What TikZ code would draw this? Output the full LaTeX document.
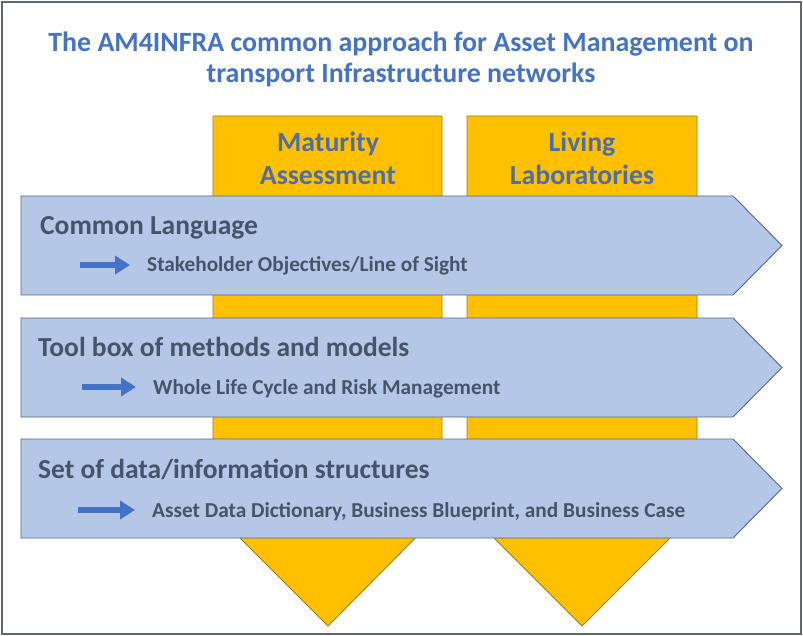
\documentclass[tikz,border=0pt]{standalone}
\usepackage{fontspec}
\setmainfont{Carlito}
\usetikzlibrary{arrows.meta}
\definecolor{jaune}{HTML}{FFC000}
\definecolor{jaunebord}{HTML}{A9791C}
\definecolor{bleuclair}{HTML}{B4C7E7}
\definecolor{bleubord}{HTML}{52678C}
\definecolor{bleutitre}{HTML}{4472C4}
\definecolor{bleujaune}{HTML}{4F6EA8}
\definecolor{ardoise}{HTML}{44546A}
\definecolor{cadregris}{HTML}{5F6675}
\tikzset{
  jauneforme/.style={fill=jaune,draw=jaunebord,line width=0.9pt},
  bande/.style={fill=bleuclair,draw=bleubord,line width=0.9pt},
  titre/.style={align=center,text=bleutitre,font=\bfseries\fontsize{27.9}{31}\selectfont},
  jaunetexte/.style={align=center,text=bleujaune,font=\bfseries\fontsize{27.8}{33}\selectfont},
  bandetitre/.style={anchor=base west,inner sep=0pt,text=ardoise,font=\bfseries\fontsize{27.5}{32}\selectfont},
  bandetexte/.style={anchor=base west,inner sep=0pt,text=ardoise,font=\bfseries\fontsize{21.3}{25}\selectfont},
  petitefleche/.style={draw=bleutitre,line width=6.5pt,-{Triangle[length=15pt,width=18pt]},shorten >=17pt}
}
\begin{document}
\begin{tikzpicture}[x=1pt,y=-1pt]
\useasboundingbox (0,0) rectangle (803,636);
%cadre
\draw[cadregris,line width=1.5pt] (2,2) rectangle (801,634);
%fin

%titre
\node[titre] (titre) at (401,59.5) {The AM4INFRA common approach for Asset Management on\\transport Infrastructure networks};

%fleches jaunes
\draw[jauneforme] (213,116) -- (442,116) -- (442,511) -- (328,626) -- (213,511) -- cycle;
\draw[jauneforme] (467,116) -- (697,116) -- (697,511) -- (582,626) -- (467,511) -- cycle;
\node[jaunetexte] (maturite) at (328,158) {Maturity\\Assessment};
\node[jaunetexte] (labos) at (582,158) {Living\\Laboratories};
%fin

%bandes bleues
\foreach \y in {196,318,439}
  \draw[bande] (21,\y) -- (733,\y) -- (782,\y+49.5) -- (733,\y+99) -- (21,\y+99) -- cycle;

\node[bandetitre] (langage) at (40,234.5) {Common Language};
\node[bandetexte] (objectifs) at (147,272) {Stakeholder Objectives/Line of Sight};
\node[bandetitre] (outils) at (38,356) {Tool box of methods and models};
\node[bandetexte] (cycle) at (153,394) {Whole Life Cycle and Risk Management};
\node[bandetitre] (donnees) at (38,478) {Set of data/information structures};
\node[bandetexte] (dico) at (152,517) {Asset Data Dictionary,\ Business Blueprint, and Business Case};
%fin

%petites fleches
\coordinate (d1) at (80,265);
\coordinate (d2) at (82,387);
\coordinate (d3) at (78,510);
\draw[petitefleche] (d1) -- (d1 -| objectifs.west);
\draw[petitefleche] (d2) -- (d2 -| cycle.west);
\draw[petitefleche] (d3) -- (d3 -| dico.west);
%fin
\end{tikzpicture}
\end{document}
